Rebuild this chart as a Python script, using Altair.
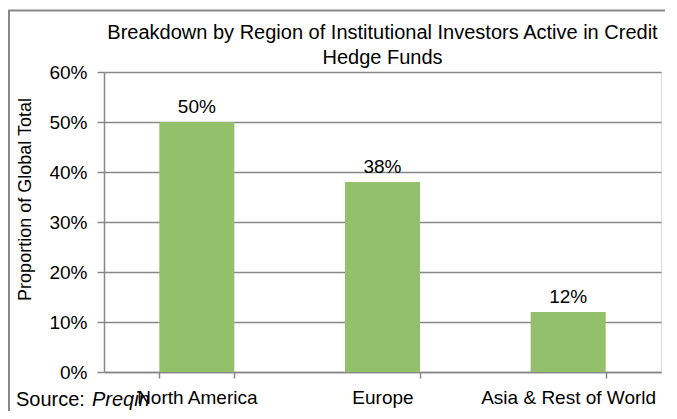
import altair as alt
import pandas as pd

regions = ["North America", "Europe", "Asia & Rest of World"]
shares = [0.50, 0.38, 0.12]
title_lines = ["Breakdown by Region of Institutional Investors Active in Credit", "Hedge Funds"]
y_title = "Proportion of Global Total"
source_label = "Source: "
source_name = "Preqin"

FONT = "Liberation Sans"
GRAY = "#888888"
GREEN = "#93C06A"
FS = 19

df = pd.DataFrame({"region": regions, "share": shares})
one = alt.Data(values=[{"k": 1}])

x_enc = alt.X(
    "region:N", sort=regions, title=None,
    scale=alt.Scale(paddingInner=0.596, paddingOuter=0.298),
    axis=alt.Axis(labelAngle=0, labelFont=FONT, labelFontSize=FS, labelColor="black",
                  domainColor=GRAY, domainWidth=1.5, tickColor=GRAY, tickWidth=1.5, tickSize=6,
                  tickBand="extent", labelPadding=10),
)
y_enc = alt.Y(
    "share:Q", title=y_title,
    scale=alt.Scale(domain=[0, 0.6]),
    axis=alt.Axis(values=[0, 0.1, 0.2, 0.3, 0.4, 0.5, 0.6], format=".0%",
                  labelFont=FONT, labelFontSize=FS, labelColor="black", labelPadding=10,
                  domainColor=GRAY, domainWidth=1.5, tickColor=GRAY, tickWidth=1.5, tickSize=7,
                  gridColor=GRAY, gridWidth=1.5,
                  titleFont=FONT, titleFontSize=18, titleFontWeight="normal", titleColor="black",
                  titleX=-79, titleY=127, titleAngle=-90, titleAlign="center", titleBaseline="middle"),
)

bars = alt.Chart(df).mark_bar(color=GREEN).encode(x=x_enc, y=y_enc)
labels = alt.Chart(df).mark_text(font=FONT, fontSize=FS, color="black", dy=-9, baseline="alphabetic").encode(
    x=alt.X("region:N", sort=regions), y="share:Q", text=alt.Text("share:Q", format=".0%")
)

frame_left = alt.Chart(one).mark_rule(color=GRAY, strokeWidth=2).encode(
    x=alt.value(-95), y=alt.value(-61.5), y2=alt.value(400)
)
frame_top = alt.Chart(one).mark_rule(color=GRAY, strokeWidth=2).encode(
    x=alt.value(-96), x2=alt.value(700), y=alt.value(-61.5)
)
title1 = alt.Chart(one).mark_text(font=FONT, fontSize=20, color="black", align="center", baseline="middle").encode(
    x=alt.value(278.5), y=alt.value(-39), text=alt.value(title_lines[0])
)
title2 = alt.Chart(one).mark_text(font=FONT, fontSize=20, color="black", align="center", baseline="middle").encode(
    x=alt.value(278.5), y=alt.value(-14), text=alt.value(title_lines[1])
)
src1 = alt.Chart(one).mark_text(font=FONT, fontSize=20, color="black", align="left", baseline="alphabetic").encode(
    x=alt.value(-88), y=alt.value(334), text=alt.value(source_label)
)
src2 = alt.Chart(one).mark_text(font=FONT, fontSize=20, fontStyle="italic", color="black", align="left", baseline="alphabetic").encode(
    x=alt.value(-12), y=alt.value(334), text=alt.value(source_name)
)

chart = alt.layer(frame_left, frame_top, bars, labels, title1, title2, src1, src2).properties(
    width=557, height=300,
    autosize=alt.AutoSizeParams(type="none"),
    padding={"left": 96, "top": 64, "right": 4, "bottom": 39},
).configure_view(stroke=None).configure(background="white")

chart.save("out.html", embed_options={"renderer": "svg", "actions": False})
